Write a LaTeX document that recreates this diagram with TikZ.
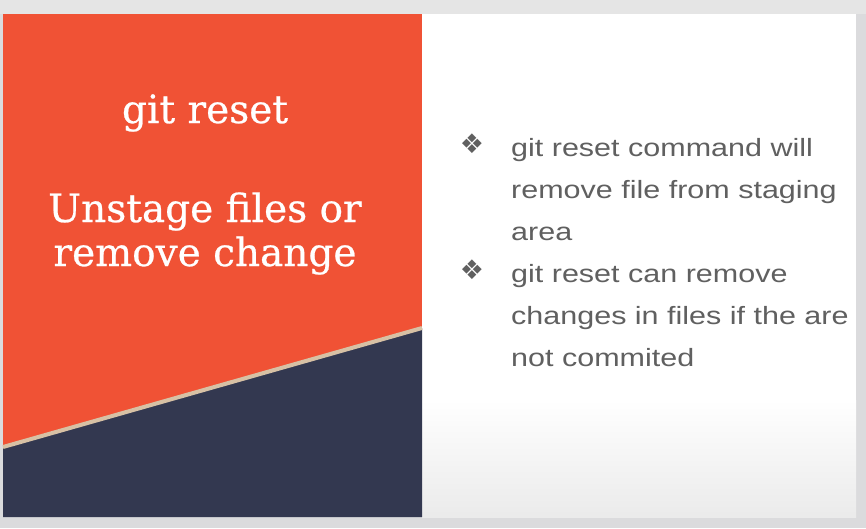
\documentclass[tikz,border=0pt]{standalone}
\usepackage{fontspec}
\usepackage{tikz}
\newfontfamily\titlefont[FakeBold=0.6]{DejaVu Serif}
\newfontfamily\bodyfont[FakeStretch=1.22]{Liberation Sans}
\newfontfamily\symfont{DejaVu Sans}
\definecolor{slideorange}{HTML}{F05235}
\definecolor{slidenavy}{HTML}{333850}
\definecolor{slidebeige}{HTML}{D7C1A5}
\definecolor{slidetext}{HTML}{606060}
\definecolor{framegray}{HTML}{DBDBDD}

\begin{document}
\begin{tikzpicture}[x=1pt, y=-1pt,
		title/.style={anchor=base, text=white, inner sep=0pt, font=\titlefont\fontsize{39}{44}\selectfont},
		line/.style={anchor=base west, text=slidetext, inner sep=0pt, font=\bodyfont\fontsize{25}{42}\selectfont},
		bullet/.style={anchor=base, text=slidetext, inner sep=0pt, font=\symfont\fontsize{27}{28}\selectfont}]
		\useasboundingbox (0,0) rectangle (866,528);
		\fill[framegray] (0,0) rectangle (866,528);
		\fill[color=black!10] (0,0) rectangle (866,14);
		% right half of the slide
		\fill[white] (422,14) rectangle (856,517);
		\fill[top color=white, bottom color=black!8] (422,400) rectangle (856,517);
		% left half: orange with the navy corner
		\fill[slideorange] (3,14) rectangle (422,517);
		\coordinate (L) at (3,447);
		\coordinate (R) at (422,328);
		\fill[slidenavy] (L) -- (R) -- (422,517) -- (3,517) -- cycle;
		\draw[slidebeige, line width=4pt] (L) -- (R);

		\node (T) [title] at (205,123) {git reset};
		\node (U1) [title] at (205,222) {Unstage files or};
		\node (U2) [title] at (205,266) {remove change};

		\node (b1) [bullet] at (472,153) {❖};
		\node (l1) [line] at (511,156) {git reset command will};
		\node (l2) [line] at (511,198) {remove file from staging};
		\node (l3) [line] at (511,240) {area};
		\node (b2) [bullet] at (472,279) {❖};
		\node (l4) [line] at (511,282) {git reset can remove};
		\node (l5) [line] at (511,324) {changes in files if the are};
		\node (l6) [line] at (511,366) {not commited};
	\end{tikzpicture}
\end{document}
